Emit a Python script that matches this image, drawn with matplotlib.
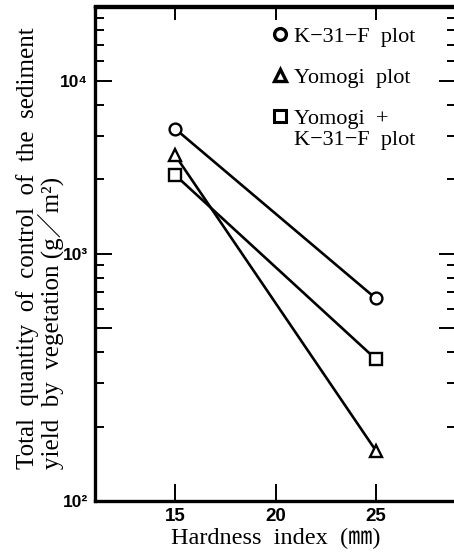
import matplotlib
matplotlib.use("Agg")
import matplotlib.pyplot as plt
from matplotlib.ticker import FixedLocator, FixedFormatter, NullFormatter
from matplotlib.lines import Line2D

# ---- data ----
hardness = [15, 25]
k31f = [3200, 660]
yomogi = [2500, 160]
yomogi_k31f = [2080, 375]
series_labels = ["K\u221231\u2212F  plot", "Yomogi  plot", "Yomogi  +", "K\u221231\u2212F  plot"]
x_ticks = [15, 20, 25]
y_major = [100, 500, 1000, 5000]
y_major_labels = ["10\u00b2", "", "10\u00b3", "10\u2074"]
y_minor = [200, 300, 400, 600, 700, 800, 900, 2000, 3000, 4000, 6000, 7000, 8000, 9000]
x_label = "Hardness  index  (\u339c)"
y_label_1 = "Total  quantity  of  control  of  the  sediment"
y_label_2 = "yield  by  vegetation (g\uff0fm\u00b2)"

SERIF = ["Liberation Serif", "Noto Sans CJK JP", "DejaVu Serif"]
NUM = ["Liberation Sans Narrow", "Liberation Sans", "DejaVu Sans"]

W, H = 454, 556
fig = plt.figure(figsize=(W / 100, H / 100), dpi=100)
left, right, top, bottom = 95, 456, 6.5, 501
ax = fig.add_axes([left / W, (H - bottom) / H, (right - left) / W, (bottom - top) / H])

ax.set_yscale("log")
ax.set_xlim(11, 29)
ax.set_ylim(100, 10000)

lw = 1.9
ms = 8.5
mew = 1.7
ax.plot(hardness, k31f, color="black", lw=lw, marker="o", ms=ms, mfc="white", mec="black", mew=mew, zorder=3)
ax.plot(hardness, yomogi, color="black", lw=lw, marker="^", ms=ms + 0.5, mfc="white", mec="black", mew=mew, zorder=3)
ax.plot(hardness, yomogi_k31f, color="black", lw=lw, marker="s", ms=ms - 0.5, mfc="white", mec="black", mew=mew, zorder=3)

for s in ax.spines.values():
    s.set_linewidth(2.4)

ax.xaxis.set_major_locator(FixedLocator(x_ticks))
ax.set_xticklabels([str(t) for t in x_ticks], family=NUM, fontweight="bold", fontsize=13.5)
ax.tick_params(axis="x", which="major", direction="in", length=12.5, width=1.4, top=False, pad=5)

top_ax = ax.secondary_xaxis("top")
top_ax.set_xticks(x_ticks)
top_ax.set_xticklabels([])
top_ax.tick_params(direction="in", length=10, width=1.4)
top_ax.spines["top"].set_linewidth(2.4)

ax.yaxis.set_major_locator(FixedLocator(y_major))
ax.yaxis.set_major_formatter(FixedFormatter(y_major_labels))
ax.yaxis.set_minor_locator(FixedLocator(y_minor))
ax.yaxis.set_minor_formatter(NullFormatter())
ax.tick_params(axis="y", which="major", direction="in", length=12, width=1.4, right=True, pad=5)
ax.tick_params(axis="y", which="minor", direction="in", length=6.5, width=1.4, right=True)
for lab in ax.get_yticklabels():
    lab.set_family(NUM)
    lab.set_fontweight("bold")
    lab.set_fontsize(12.5)

fig.text(276 / W, 1 - 538 / H, x_label, family=SERIF, fontsize=17.5, ha="center", va="center")
fig.text(28 / W, 1 - 469 / H, y_label_1, family=SERIF, fontsize=18, rotation=90,
         ha="center", va="bottom")
fig.text(50.5 / W, 1 - 469 / H, y_label_2, family=SERIF, fontsize=18, rotation=90,
         ha="center", va="bottom")

blank = Line2D([], [], ls="none", marker="none")
mk = dict(ls="none", mfc="white", mec="black")
handles = [
    Line2D([], [], marker="o", ms=8.5, mew=2.4, **mk),
    blank,
    Line2D([], [], marker="^", ms=9, mew=2.4, **mk),
    blank,
    Line2D([], [], marker="s", ms=8.5, mew=2.2, **mk),
    blank,
]
labels = [series_labels[0], " ", series_labels[1], " ", series_labels[2], series_labels[3]]
leg = ax.legend(handles, labels, loc="upper left", bbox_to_anchor=(0.46, 0.978),
                frameon=False, handlelength=0.9, handletextpad=0.2, labelspacing=0.0,
                prop={"family": SERIF, "size": 16}, borderaxespad=0)

fig.savefig("out.png", dpi=100, facecolor="white")
